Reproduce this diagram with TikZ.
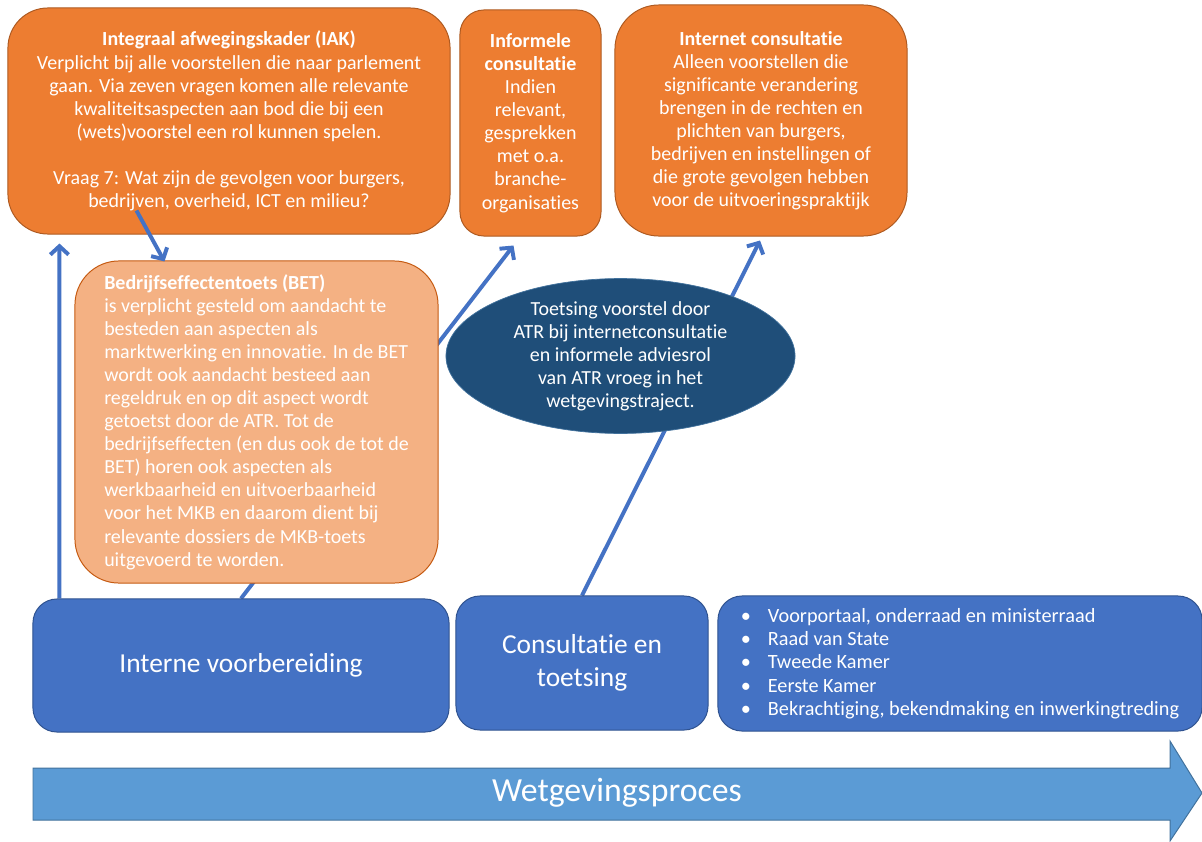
\documentclass[tikz,border=0pt]{standalone}
\usepackage{fontspec}
\setmainfont{Carlito}[Ligatures=NoCommon]
\usetikzlibrary{positioning,calc,arrows.meta,shapes.geometric}

\definecolor{oranje}{HTML}{ED7D31}
\definecolor{oranjerand}{HTML}{AE5A21}
\definecolor{lichtoranje}{HTML}{F4B183}
\definecolor{lichtrand}{HTML}{C55A11}
\definecolor{donkerblauw}{HTML}{1F4E79}
\definecolor{blauw}{HTML}{4472C4}
\definecolor{blauwrand}{HTML}{2F528F}
\definecolor{pijlblauw}{HTML}{5B9BD5}
\definecolor{pijlrand}{HTML}{41719C}

\pgfdeclarelayer{background}
\pgfsetlayers{background,main}

\newcommand{\tekst}{\fontsize{14.2}{16.4}\selectfont}
\newcommand{\groot}{\fontsize{19.5}{23.5}\selectfont}

\begin{document}
\begin{tikzpicture}[x=0.025cm,y=-0.025cm,
  oranjebox/.style={draw=oranjerand, fill=oranje, line width=0.7pt, text=white, align=center, font=\tekst},
  blauwbox/.style={draw=blauwrand, fill=blauw, line width=0.7pt, text=white, rounded corners=0.6cm},
  conn/.style={draw=blauw, line width=2.8pt, -{Straight Barb[length=6pt,width=13pt]}}]
\useasboundingbox (0,0) rectangle (1202,841);

% Bovenste rij
\node[oranjebox, rounded corners=1cm, minimum width=11.05cm, minimum height=5.65cm] (iak) at (229,121)
  {\textbf{Integraal afwegingskader (IAK)}\\
   Verplicht bij alle voorstellen die naar parlement\\
   gaan. Via zeven vragen komen alle relevante\\
   kwaliteitsaspecten aan bod die bij een\\
   (wets)voorstel een rol kunnen spelen.\\[16.4pt]
   Vraag 7: Wat zijn de gevolgen voor burgers,\\
   bedrijven, overheid, ICT en milieu?};
\node[oranjebox, rounded corners=0.6cm, minimum width=3.525cm, minimum height=5.65cm] (infcons) at (530.5,123)
  {\textbf{Informele}\\ \textbf{consultatie}\\ Indien\\ relevant,\\ gesprekken\\ met o.a.\\ branche-\\ organisaties};
\node[oranjebox, rounded corners=1.1cm, minimum width=7.3cm, minimum height=5.775cm] (intcons) at (761,120.5)
  {\textbf{Internet consultatie}\\ Alleen voorstellen die\\ significante verandering\\ brengen in de rechten en\\
   plichten van burgers,\\ bedrijven en instellingen of\\ die grote gevolgen hebben\\ voor de uitvoeringspraktijk};

% Midden
\node[draw=lichtrand, fill=lichtoranje, line width=0.7pt, rounded corners=1.1cm, text=white, align=left, font=\tekst,
  minimum width=9.075cm, minimum height=8.05cm] (bet) at (256.5,422)
  {\textbf{Bedrijfseffectentoets (BET)}\\
   is verplicht gesteld om aandacht te\\
   besteden aan aspecten als\\
   marktwerking en innovatie. In de BET\\
   wordt ook aandacht besteed aan\\
   regeldruk en op dit aspect wordt\\
   getoetst door de ATR. Tot de\\
   bedrijfseffecten (en dus ook de tot de\\
   BET) horen ook aspecten als\\
   werkbaarheid en uitvoerbaarheid\\
   voor het MKB en daarom dient bij\\
   relevante dossiers de MKB-toets\\
   uitgevoerd te worden.};
\node[ellipse, draw=pijlrand, fill=donkerblauw, line width=0.5pt, text=white, align=center, font=\tekst,
  inner sep=0pt, minimum width=8.725cm, minimum height=3.35cm] (atr) at (620.5,356)
  {Toetsing voorstel door\\ ATR bij internetconsultatie\\ en informele adviesrol\\ van ATR vroeg in het\\ wetgevingstraject.};

% Onderste rij
\node[blauwbox, font=\groot, minimum width=10.4cm, minimum height=3.325cm] (interne) at (241,665.5) {Interne voorbereiding};
\node[blauwbox, font=\groot, align=center, minimum width=6.3cm, minimum height=3.35cm] (constoets) at (582,663) {Consultatie en\\ toetsing};
\node[blauwbox, font=\fontsize{14.4}{16.6}\selectfont, align=left, minimum width=12.1cm, minimum height=3.375cm] (stappen) at (960,663.5)
  {\textbullet\hspace{12pt}Voorportaal, onderraad en ministerraad\\
   \textbullet\hspace{12pt}Raad van State\\
   \textbullet\hspace{12pt}Tweede Kamer\\
   \textbullet\hspace{12pt}Eerste Kamer\\
   \textbullet\hspace{12pt}Bekrachtiging, bekendmaking en inwerkingtreding};

% Wetgevingsproces
\draw[draw=pijlrand, fill=pijlblauw, line width=0.7pt] (33,768) -- (1170,768) -- (1170,741) -- (1202,793)
  -- (1170,841) -- (1170,820) -- (33,820) -- cycle;
\node[text=white, font=\fontsize{24}{29}\selectfont] (proces) at (617,793) {Wetgevingsproces};

% Verbindingen
\begin{pgfonlayer}{background}
\draw[conn] ($(interne.north west)+(27,0)$) -- ($(iak.south west)+(52,9)$);
\draw[conn] (interne.north) -- ($(infcons.south)+(-17,9)$);
\draw[conn] (constoets.north) -- ($(intcons.south)+(-1,4)$);
\end{pgfonlayer}
\draw[conn] ($(iak.south west)+(129,-24)$) -- ($(bet.north west)+(90,1)$);
\end{tikzpicture}
\end{document}
